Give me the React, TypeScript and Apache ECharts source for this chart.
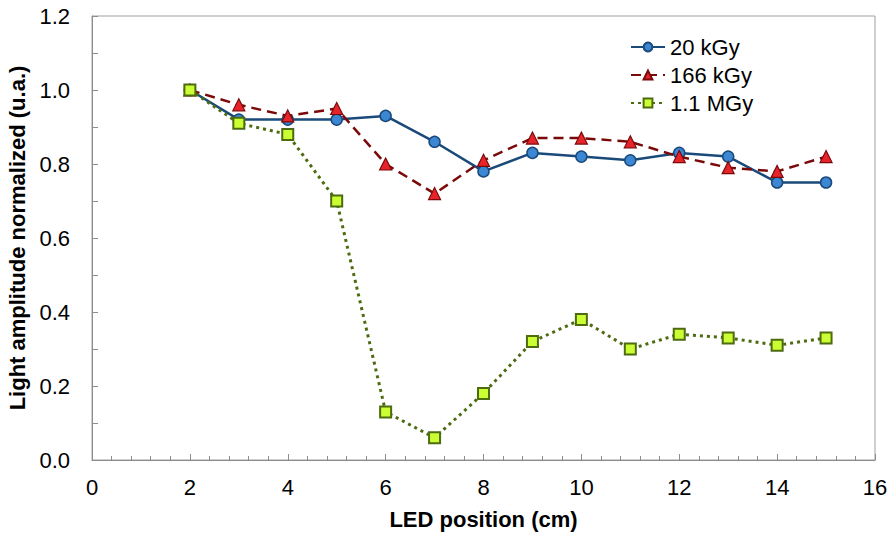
import React, { useEffect, useRef } from "react";
import * as echarts from "echarts";

const positions = [2, 3, 4, 5, 6, 7, 8, 9, 10, 11, 12, 13, 14, 15];
const s20kGy = [1.0, 0.92, 0.92, 0.92, 0.93, 0.86, 0.78, 0.83, 0.82, 0.81, 0.83, 0.82, 0.75, 0.75];
const s166kGy = [1.0, 0.96, 0.93, 0.95, 0.8, 0.72, 0.81, 0.87, 0.87, 0.86, 0.82, 0.79, 0.78, 0.82];
const s11MGy = [1.0, 0.91, 0.88, 0.7, 0.13, 0.06, 0.18, 0.32, 0.38, 0.3, 0.34, 0.33, 0.31, 0.33];
const seriesNames = ["20 kGy", "166 kGy", "1.1 MGy"];

const pair = (ys: number[]) => positions.map((x, i) => [x, ys[i]]);

export default function App() {
  const ref = useRef<HTMLDivElement>(null);
  useEffect(() => {
    const chart = echarts.init(ref.current!, null, { renderer: "svg" });
    const font = "Arial, 'Liberation Sans', sans-serif";
    chart.setOption({
      animation: false,
      backgroundColor: "#ffffff",
      textStyle: { fontFamily: font },
      grid: {
        left: 92,
        right: 17,
        top: 16,
        bottom: 76,
        containLabel: false,
        outerBoundsMode: "none",
        show: true,
        borderColor: "#a0a0a0",
        borderWidth: 1,
      },
      legend: {
        orient: "vertical",
        left: 625,
        top: 31,
        itemGap: 6,
        itemWidth: 34,
        itemHeight: 11,
        textStyle: { fontSize: 22, color: "#000", fontFamily: font },
        data: seriesNames,
      },
      xAxis: {
        type: "value",
        min: 0,
        max: 16,
        interval: 2,
        axisLine: { show: true, lineStyle: { color: "#8c8c8c", width: 1 } },
        axisTick: { show: true, inside: true, length: 6, lineStyle: { color: "#8c8c8c" } },
        minorTick: { show: true, splitNumber: 5, length: 4, lineStyle: { color: "#8c8c8c" } },
        splitLine: { show: false },
        axisLabel: { fontSize: 22, color: "#000", margin: 16, fontFamily: font },
        name: "LED position (cm)",
        nameLocation: "middle",
        nameGap: 48,
        nameTextStyle: { fontSize: 22, fontWeight: "bold", color: "#000", fontFamily: font },
      },
      yAxis: {
        type: "value",
        min: 0,
        max: 1.2,
        interval: 0.2,
        axisLine: { show: true, lineStyle: { color: "#8c8c8c", width: 1 } },
        axisTick: { show: true, inside: true, length: 6, lineStyle: { color: "#8c8c8c" } },
        minorTick: { show: true, splitNumber: 2, length: 6, lineStyle: { color: "#8c8c8c" } },
        splitLine: { show: false },
        axisLabel: {
          fontSize: 22,
          color: "#000",
          margin: 22,
          fontFamily: font,
          formatter: (v: number) => v.toFixed(1),
        },
        name: "Light amplitude normalized (u.a.)",
        nameLocation: "middle",
        nameGap: 58,
        nameTextStyle: { fontSize: 22, fontWeight: "bold", color: "#000", fontFamily: font },
      },
      series: [
        {
          name: seriesNames[0],
          type: "line",
          data: pair(s20kGy),
          symbol: "circle",
          symbolSize: 11,
          z: 2,
          lineStyle: { color: "#1a4a7a", width: 2.5, type: "solid" },
          itemStyle: { color: "#3b87d4", borderColor: "#1a4a7a", borderWidth: 1.5 },
        },
        {
          name: seriesNames[1],
          type: "line",
          data: pair(s166kGy),
          symbol: "triangle",
          symbolSize: 12,
          z: 3,
          lineStyle: { color: "#7a0a0a", width: 2.5, type: [10, 6] },
          itemStyle: { color: "#e8242b", borderColor: "#7a0a0a", borderWidth: 1.2 },
        },
        {
          name: seriesNames[2],
          type: "line",
          data: pair(s11MGy),
          symbol: "rect",
          symbolSize: 11,
          z: 4,
          lineStyle: { color: "#4d6b10", width: 3, type: [3, 4] },
          itemStyle: { color: "#ccff33", borderColor: "#4d6b10", borderWidth: 2 },
        },
      ],
    });
    return () => chart.dispose();
  }, []);
  return (
    <div
      ref={ref}
      style={{ position: "absolute", left: 0, top: 0, width: 892, height: 536 }}
    />
  );
}
